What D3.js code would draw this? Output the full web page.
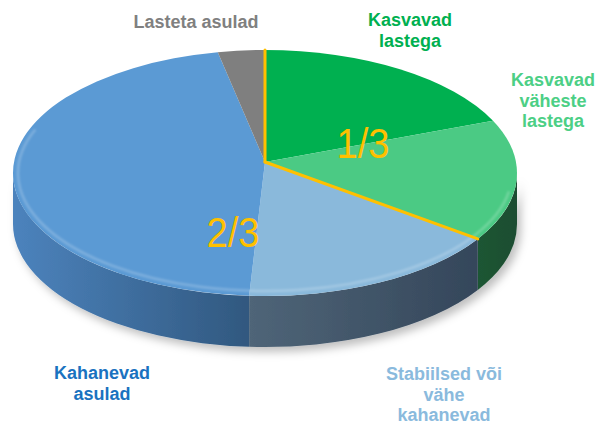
<!DOCTYPE html>
<html>
<head>
<meta charset="utf-8">
<script src="https://cdn.jsdelivr.net/npm/d3@7"></script>
<style>
  body { margin: 0; background: #fff; }
  svg { display: block; font-family: "Liberation Sans", Arial, sans-serif; }
</style>
</head>
<body>
<div id="chart"></div>
<script>
// shares of settlements (percent)
var categories = ["Kasvavad lastega", "Kasvavad väheste lastega", "Stabiilsed või vähe kahanevad", "Kahanevad asulad", "Lasteta asulad"];
var values = [18, 16, 17, 46, 3];
var labelLines = [["Kasvavad", "lastega"], ["Kasvavad", "väheste", "lastega"], ["Stabiilsed või", "vähe", "kahanevad"], ["Kahanevad", "asulad"], ["Lasteta asulad"]];
var groupLabels = ["1/3", "2/3"];

var topColors = ["#00b050", "#4bca84", "#8ab9db", "#5b9ad4", "#7f7f7f"];
var sideLight = ["#1f6a3c", "#1f5634", "#4f6578", "#4c83bd", "#5a5a5a"];
var sideDark = ["#1b4a2c", "#1d4d30", "#34465a", "#31587f", "#444"];
var labelColors = ["#00b050", "#4ccf85", "#8abadd", "#1a72c0", "#808080"];

var width = 599, height = 424;
var cx = 265, cy = 173, rx = 252, ry = 123, depth = 51;
var vx = 265, vy = 162; // where the slices meet (perspective)

var svg = d3.select("#chart").append("svg")
    .attr("width", width)
    .attr("height", height);

var defs = svg.append("defs");

var shadow = defs.append("filter").attr("id", "shadow")
    .attr("x", "-10%").attr("y", "-10%").attr("width", "120%").attr("height", "130%");
shadow.append("feDropShadow")
    .attr("dx", 4).attr("dy", 5).attr("stdDeviation", 4)
    .attr("flood-color", "#000").attr("flood-opacity", 0.25);

var rimBlur = defs.append("filter").attr("id", "rimblur");
rimBlur.append("feGaussianBlur").attr("stdDeviation", 1.2);

var pie = d3.pie().sort(null).value(function(d) { return d; });
var arcs = pie(values);

function pt(a, dy, inset) {
  var k = inset || 0;
  return [cx + (rx - k) * Math.sin(a), cy - (ry - k) * Math.cos(a) + (dy || 0)];
}

// side walls (front half only)
var sides = svg.append("g").attr("filter", "url(#shadow)");
arcs.forEach(function(d, i) {
  var a0 = Math.max(d.startAngle, Math.PI / 2),
      a1 = Math.min(d.endAngle, Math.PI * 3 / 2);
  if (a0 >= a1) return;
  var p0 = pt(a0), p1 = pt(a1), q0 = pt(a0, depth), q1 = pt(a1, depth);
  var xs = [p0[0], p1[0]];
  var grad = defs.append("linearGradient")
      .attr("id", "side" + i)
      .attr("gradientUnits", "userSpaceOnUse")
      .attr("x1", d3.min(xs)).attr("x2", d3.max(xs))
      .attr("y1", 0).attr("y2", 0);
  grad.append("stop").attr("offset", 0).attr("stop-color", sideLight[i]);
  grad.append("stop").attr("offset", 1).attr("stop-color", sideDark[i]);
  var path = "M" + p0 + "A" + rx + "," + ry + " 0 0 1 " + p1 +
      "L" + q1 + "A" + rx + "," + ry + " 0 0 0 " + q0 + "Z";
  sides.append("path")
      .attr("d", path)
      .attr("fill", "url(#side" + i + ")");
});

// top face
var topFace = svg.append("g");
arcs.forEach(function(d, i) {
  var p0 = pt(d.startAngle), p1 = pt(d.endAngle);
  var large = d.endAngle - d.startAngle > Math.PI ? 1 : 0;
  topFace.append("path")
      .attr("d", "M" + [vx, vy] + "L" + p0 + "A" + rx + "," + ry + " 0 " + large + " 1 " + p1 + "Z")
      .attr("fill", topColors[i]);
});

// soft rim highlight along the front edge
var rimA = pt(Math.PI * 0.55, 0, 5), rimB = pt(Math.PI * 1.62, 0, 5);
topFace.append("path")
    .attr("d", "M" + rimA + "A" + (rx - 5) + "," + (ry - 5) + " 0 1 1 " + rimB)
    .attr("fill", "none")
    .attr("stroke", "#fff")
    .attr("stroke-opacity", 0.22)
    .attr("stroke-width", 2.5)
    .attr("filter", "url(#rimblur)");

// yellow split lines: 1/3 vs 2/3
var splitAngles = [arcs[0].startAngle, arcs[1].endAngle];
splitAngles.forEach(function(a) {
  var p = pt(a);
  svg.append("line")
      .attr("x1", vx).attr("y1", vy)
      .attr("x2", p[0]).attr("y2", p[1])
      .attr("stroke", "#ffc000")
      .attr("stroke-width", 3)
      .attr("stroke-linecap", "round");
});

// 1/3 and 2/3
var groupPos = [[363, 158], [233, 247]];
groupLabels.forEach(function(t, i) {
  svg.append("text")
      .attr("x", groupPos[i][0]).attr("y", groupPos[i][1])
      .attr("text-anchor", "middle")
      .attr("font-size", 43)
      .attr("fill", "#ffc000")
      .attr("textLength", 53)
      .attr("lengthAdjust", "spacingAndGlyphs")
      .text(t);
});

// category labels
var labelPos = [[410, 26], [553, 86], [444, 380], [102, 379], [196, 28]];
categories.forEach(function(c, i) {
  var t = svg.append("text")
      .attr("x", labelPos[i][0]).attr("y", labelPos[i][1])
      .attr("text-anchor", "middle")
      .attr("font-size", 18)
      .attr("font-weight", "bold")
      .attr("fill", labelColors[i]);
  labelLines[i].forEach(function(line, j) {
    t.append("tspan")
        .attr("x", labelPos[i][0])
        .attr("dy", j === 0 ? 0 : 20.5)
        .text(line);
  });
});
</script>
</body>
</html>
